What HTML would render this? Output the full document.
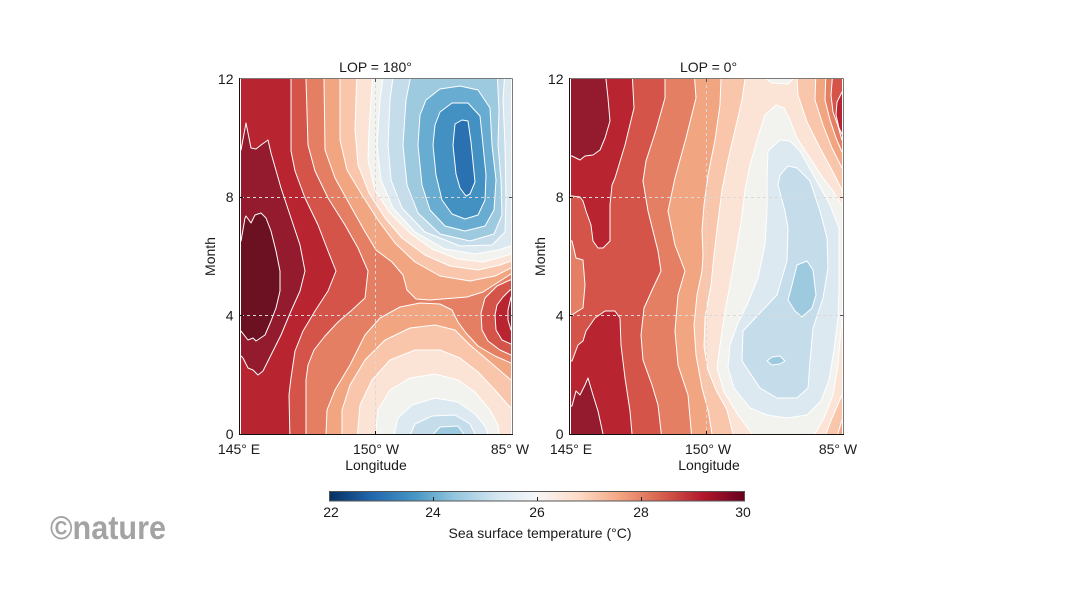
<!DOCTYPE html>
<html>
<head>
<meta charset="utf-8">
<style>
  html,body{margin:0;padding:0;background:#fff;}
  svg{display:block;}
  text{font-family:"Liberation Sans",Arial,sans-serif;fill:#1a1a1a;}
</style>
</head>
<body>
<svg width="1066" height="600" viewBox="0 0 1066 600" xmlns="http://www.w3.org/2000/svg">
<defs>
  <clipPath id="c1"><rect x="241" y="79" width="270" height="355"/></clipPath>
  <clipPath id="c2"><rect x="571" y="79" width="271" height="355"/></clipPath>
  <linearGradient id="cb" x1="0" y1="0" x2="1" y2="0">
    <stop offset="0" stop-color="#053061"/>
    <stop offset="0.1" stop-color="#2166ac"/>
    <stop offset="0.2" stop-color="#4393c3"/>
    <stop offset="0.3" stop-color="#92c5de"/>
    <stop offset="0.4" stop-color="#d1e5f0"/>
    <stop offset="0.5" stop-color="#f7f7f7"/>
    <stop offset="0.6" stop-color="#fddbc7"/>
    <stop offset="0.7" stop-color="#f4a582"/>
    <stop offset="0.8" stop-color="#d6604d"/>
    <stop offset="0.9" stop-color="#b2182b"/>
    <stop offset="1" stop-color="#67001f"/>
  </linearGradient>
</defs>
<rect width="1066" height="600" fill="#fff"/>

<!-- ================= PLOT 1 ================= -->
<g clip-path="url(#c1)" stroke="#fff" stroke-width="1" stroke-linejoin="round">
  <rect x="230" y="70" width="300" height="380" fill="#e47f64" stroke="none"/>
  <!-- upper cool system -->
  <path fill="#f2a581" d="M324,70 L324,79 L325,150 L335,178 L350,205 L364,230 L376,250 L392,262 L403,275 L407,290 L416,299 L430,300 L467,297 L483,292 L497,283 L511,274 L520,274 L520,70 Z"/>
  <path fill="#f9c6ab" d="M340,70 L340,140 L347,170 L362,195 L378,220 L395,243 L415,262 L440,276 L470,281 L495,276 L511,268 L520,268 L520,70 Z"/>
  <path fill="#fbe3d6" d="M357,70 L355,130 L358,165 L369,193 L385,218 L402,238 L425,255 L450,266 L478,270 L500,265 L511,261 L520,261 L520,70 Z"/>
  <path fill="#f2f3ee" d="M373,70 L369,130 L368,160 L375,190 L390,213 L410,233 L432,249 L458,259 L483,262 L502,257 L511,254 L520,254 L520,70 Z"/>
  <path fill="#dde9f1" d="M384,70 L380,100 L377,145 L381,180 L393,208 L415,232 L445,249 L475,254 L498,250 L511,246 L520,246 L520,70 Z"/>
  <path fill="#c5dcea" d="M394,70 L390,100 L388,145 L391,180 L402,208 L425,232 L460,246 L492,245 L505,232 L506,200 L505,145 L503,100 L505,70 Z"/>
  <path fill="#9ecae0" d="M412,70 L406,100 L403,145 L407,185 L418,213 L440,234 L470,241 L494,234 L502,215 L501,180 L498,145 L499,110 L497,70 Z"/>
  <path fill="#69acd2" d="M426,100 L440,89 L460,86 L478,90 L490,108 L492,145 L496,180 L494,210 L485,226 L465,231 L445,226 L430,210 L422,185 L418,145 L420,115 Z"/>
  <path fill="#4390c3" d="M440,112 L452,103 L468,103 L480,116 L483,145 L486,175 L485,200 L478,215 L465,219 L452,214 L442,200 L436,175 L433,145 L435,125 Z"/>
  <path fill="#2a71b1" d="M455,124 L462,120 L468,121 L471,142 L474,172 L475,182 L470,194 L466,196 L460,188 L456,174 L453,145 Z"/>
  <!-- lower cool system -->
  <path fill="#f2a581" d="M326,440 L326,434 L327,410 L335,390 L350,365 L365,335 L380,318 L400,307 L420,303 L440,304 L452,310 L458,322 L466,333 L478,346 L495,356 L511,363 L520,363 L520,440 Z"/>
  <path fill="#f9c6ab" d="M342,440 L342,410 L350,385 L365,360 L385,340 L410,328 L435,325 L455,330 L470,345 L490,362 L505,375 L511,380 L520,380 L520,440 Z"/>
  <path fill="#fbe3d6" d="M357,440 L360,405 L372,380 L390,360 L415,350 L440,350 L460,358 L478,372 L495,390 L508,405 L511,408 L520,408 L520,440 Z"/>
  <path fill="#f2f3ee" d="M375,440 L378,410 L390,390 L410,378 L435,374 L458,380 L475,392 L490,410 L498,425 L500,440 Z"/>
  <path fill="#dde9f1" d="M393,440 L398,418 L412,405 L435,398 L458,402 L475,414 L485,426 L490,440 Z"/>
  <path fill="#c5dcea" d="M408,440 L415,424 L432,416 L455,415 L470,424 L478,440 Z"/>
  <path fill="#9ecae0" d="M428,440 L440,427 L458,426 L468,440 Z"/>
  <!-- left warm system -->
  <path fill="#d4544a" d="M230,70 L306,70 L306,79 L308,145 L315,171 L328,198 L345,225 L358,248 L368,271 L365,298 L352,310 L338,322 L325,336 L314,350 L308,365 L306,380 L306,440 L230,440 Z"/>
  <path fill="#b8242f" d="M230,70 L291,70 L291,151 L295,171 L305,198 L318,225 L328,251 L336,271 L328,291 L315,311 L303,331 L295,351 L291,378 L289,395 L290,440 L230,440 Z"/>
  <path fill="#931b2d" d="M230,150 L241,150 L246,123 L251,148 L256,149 L261,145 L268,140 L271,153 L281,188 L291,218 L300,245 L305,271 L300,291 L291,311 L281,335 L271,355 L263,371 L258,375 L253,370 L248,368 L243,358 L241,356 L230,356 Z"/>
  <path fill="#6c1122" d="M230,241 L241,241 L245,218 L246,216 L251,223 L255,215 L261,213 L266,218 L271,231 L276,251 L280,271 L280,291 L276,308 L271,321 L265,335 L256,341 L253,338 L248,340 L241,331 L230,331 Z"/>
  <!-- right warm blob -->
  <path fill="#d4544a" d="M520,280 L510,280 L497,286 L485,298 L481,313 L482,330 L488,341 L500,350 L511,355 L520,355 Z"/>
  <path fill="#b8242f" d="M520,290 L510,290 L503,297 L497,305 L495,315 L496,330 L502,340 L511,344 L520,344 Z"/>
  <path fill="#931b2d" d="M520,297 L511,297 L508,310 L508,320 L511,330 L520,330 Z"/>
  <!-- grid -->
  <g stroke="#d9d9d9" stroke-width="1" stroke-dasharray="3,3" fill="none">
    <line x1="241" y1="197.5" x2="511" y2="197.5"/>
    <line x1="241" y1="315.5" x2="511" y2="315.5"/>
    <line x1="375.5" y1="79" x2="375.5" y2="434"/>
  </g>
</g>
<!-- axes plot 1 -->
<g fill="none" stroke-width="1">
  <line x1="239.5" y1="78.5" x2="512.5" y2="78.5" stroke="#7a7a7a"/>
  <line x1="512.5" y1="78.5" x2="512.5" y2="434.5" stroke="#7a7a7a"/>
  <line x1="239.5" y1="78" x2="239.5" y2="435" stroke="#111"/>
  <line x1="239" y1="434.5" x2="513" y2="434.5" stroke="#111"/>
  <g stroke="#111">
    <line x1="239.5" y1="197.5" x2="243" y2="197.5"/>
    <line x1="239.5" y1="315.5" x2="243" y2="315.5"/>
    <line x1="375.5" y1="434.5" x2="375.5" y2="431"/>
  </g>
  <g stroke="#555">
    <line x1="509" y1="197.5" x2="512.5" y2="197.5"/>
    <line x1="509" y1="315.5" x2="512.5" y2="315.5"/>
    <line x1="375.5" y1="78.5" x2="375.5" y2="82"/>
  </g>
</g>
<g font-size="14">
  <text x="375.5" y="72" text-anchor="middle">LOP = 180°</text>
  <text x="233.5" y="84" text-anchor="end">12</text>
  <text x="233.5" y="202" text-anchor="end">8</text>
  <text x="233.5" y="320.5" text-anchor="end">4</text>
  <text x="233.5" y="439" text-anchor="end">0</text>
  <text transform="translate(215,256.5) rotate(-90)" text-anchor="middle">Month</text>
  <text x="239" y="454" text-anchor="middle">145° E</text>
  <text x="376" y="454" text-anchor="middle">150° W</text>
  <text x="510" y="454" text-anchor="middle">85° W</text>
  <text x="376" y="470" text-anchor="middle">Longitude</text>
</g>

<!-- ================= PLOT 2 ================= -->
<g clip-path="url(#c2)" stroke="#fff" stroke-width="1" stroke-linejoin="round">
  <rect x="560" y="70" width="300" height="380" fill="#fbe3d6" stroke="none"/>
  <!-- left warm system -->
  <path fill="#f9c6ab" d="M560,70 L745,70 L745,79 L742,100 L735,130 L728,160 L722,190 L718,221 L714,255 L711,285 L705,318 L704,347 L708,370 L716,390 L727,410 L733,434 L733,440 L560,440 Z"/>
  <path fill="#f2a581" d="M560,70 L721,70 L721,79 L720,105 L715,140 L708,175 L704,205 L702,230 L703,255 L702,271 L697,295 L694,325 L696,355 L702,388 L708,410 L712,434 L712,440 L560,440 Z"/>
  <path fill="#e47f64" d="M560,70 L694,70 L696,98 L686,138 L675,178 L668,211 L675,245 L685,271 L678,295 L675,331 L678,365 L688,395 L692,440 L560,440 Z"/>
  <path fill="#d4544a" d="M560,70 L665,70 L665,98 L656,130 L646,161 L643,181 L648,211 L658,251 L661,271 L653,288 L644,308 L641,335 L643,360 L652,385 L658,405 L662,440 L560,440 Z"/>
  <path fill="#e47f64" d="M560,241 L572,241 L576,258 L583,260 L585,285 L583,308 L578,311 L572,315 L560,315 Z"/>
  <path fill="#b8242f" d="M560,70 L632,70 L634,108 L625,145 L615,178 L612,185 L610,205 L610,241 L603,248 L598,248 L593,241 L591,225 L586,211 L583,201 L580,197 L572,196 L560,196 Z"/>
  <path fill="#b8242f" d="M560,361 L572,361 L578,345 L583,341 L586,331 L595,318 L605,311 L615,311 L620,318 L621,345 L625,378 L630,411 L632,434 L632,440 L560,440 Z"/>
  <path fill="#931b2d" d="M560,70 L605,70 L608,98 L610,121 L605,138 L600,150 L593,155 L585,156 L580,160 L576,158 L572,156 L560,156 Z"/>
  <path fill="#931b2d" d="M560,406 L572,406 L576,391 L580,395 L585,385 L588,378 L593,395 L598,411 L603,434 L603,440 L560,440 Z"/>
  <!-- upper-right warm corner -->
  <path fill="#f9c6ab" d="M797,70 L797,78 L798,95 L807,122 L820,148 L833,172 L842,190 L850,190 L850,70 Z"/>
  <path fill="#f2a581" d="M816,70 L815,100 L823,125 L832,148 L842,168 L850,168 L850,70 Z"/>
  <path fill="#e47f64" d="M826,70 L825,100 L830,120 L836,138 L842,152 L850,152 L850,70 Z"/>
  <path fill="#d4544a" d="M833,70 L831,95 L833,112 L838,126 L842,140 L850,140 L850,70 Z"/>
  <path fill="#b8242f" d="M850,92 L842,92 L837,102 L836,115 L839,128 L842,134 L850,134 Z"/>
  <!-- lower-right warm corner -->
  <path fill="#f9c6ab" d="M826,440 L826,434 L832,418 L842,395 L850,395 L850,440 Z"/>
  <path fill="#f2a581" d="M836,440 L842,420 L850,420 L850,440 Z"/>
  <!-- cool system -->
  <path fill="#f2f3ee" d="M776,105 L765,115 L757,140 L750,165 L745,190 L741,222 L736,251 L730,285 L725,311 L720,345 L717,368 L724,392 L738,415 L752,434 L752,440 L815,440 L815,434 L824,418 L833,395 L838,365 L840,340 L842,320 L850,320 L850,205 L842,205 L833,191 L823,178 L810,158 L797,138 L790,120 L784,108 Z"/>
  <path fill="#f2f3ee" d="M765,70 L765,78 L772,83 L788,84 L794,78 L794,70 Z"/>
  <path fill="#dde9f1" d="M790,141 L780,140 L768,151 L767,178 L767,211 L765,245 L758,278 L747,305 L737,325 L730,345 L728,368 L734,388 L750,408 L767,415 L787,418 L807,415 L821,401 L829,380 L834,350 L838,318 L839,290 L839,228 L830,205 L815,178 L800,151 Z"/>
  <path fill="#c5dcea" d="M788,166 L780,175 L778,185 L785,211 L788,228 L787,261 L777,295 L758,315 L743,331 L742,361 L760,388 L777,398 L797,398 L808,388 L810,361 L813,328 L823,298 L828,268 L827,238 L820,211 L810,181 L797,168 Z"/>
  <path fill="#9ecae0" d="M797,265 L807,261 L813,270 L816,295 L812,308 L802,317 L795,311 L788,300 L792,285 Z"/>
  <path fill="#9ecae0" d="M767,361 L772,357 L780,356 L785,361 L780,364 L772,365 Z"/>
  <!-- grid -->
  <g stroke="#d9d9d9" stroke-width="1" stroke-dasharray="3,3" fill="none">
    <line x1="571" y1="197.5" x2="842" y2="197.5"/>
    <line x1="571" y1="315.5" x2="842" y2="315.5"/>
    <line x1="706.5" y1="79" x2="706.5" y2="434"/>
  </g>
</g>
<!-- axes plot 2 -->
<g fill="none" stroke-width="1">
  <line x1="569.5" y1="78.5" x2="843.5" y2="78.5" stroke="#7a7a7a"/>
  <line x1="843.5" y1="78.5" x2="843.5" y2="434.5" stroke="#7a7a7a"/>
  <line x1="569.5" y1="78" x2="569.5" y2="435" stroke="#111"/>
  <line x1="569" y1="434.5" x2="844" y2="434.5" stroke="#111"/>
  <g stroke="#111">
    <line x1="569.5" y1="197.5" x2="573" y2="197.5"/>
    <line x1="569.5" y1="315.5" x2="573" y2="315.5"/>
    <line x1="706.5" y1="434.5" x2="706.5" y2="431"/>
  </g>
  <g stroke="#555">
    <line x1="840" y1="197.5" x2="843.5" y2="197.5"/>
    <line x1="840" y1="315.5" x2="843.5" y2="315.5"/>
    <line x1="706.5" y1="78.5" x2="706.5" y2="82"/>
  </g>
</g>
<g font-size="14">
  <text x="708.5" y="72" text-anchor="middle">LOP = 0°</text>
  <text x="563.5" y="84" text-anchor="end">12</text>
  <text x="563.5" y="202" text-anchor="end">8</text>
  <text x="563.5" y="320.5" text-anchor="end">4</text>
  <text x="563.5" y="439" text-anchor="end">0</text>
  <text transform="translate(545,256.5) rotate(-90)" text-anchor="middle">Month</text>
  <text x="571" y="454" text-anchor="middle">145° E</text>
  <text x="708" y="454" text-anchor="middle">150° W</text>
  <text x="838" y="454" text-anchor="middle">85° W</text>
  <text x="709" y="470" text-anchor="middle">Longitude</text>
</g>

<!-- ================= COLORBAR ================= -->
<rect x="329.5" y="491.5" width="415" height="9.5" fill="url(#cb)" stroke="#555" stroke-width="1"/>
<g stroke="#222" stroke-width="1">
  <line x1="433.5" y1="497" x2="433.5" y2="501"/>
  <line x1="537.5" y1="497" x2="537.5" y2="501"/>
  <line x1="641.5" y1="497" x2="641.5" y2="501"/>
</g>
<g font-size="14">
  <text x="331" y="517" text-anchor="middle">22</text>
  <text x="433" y="517" text-anchor="middle">24</text>
  <text x="537" y="517" text-anchor="middle">26</text>
  <text x="641" y="517" text-anchor="middle">28</text>
  <text x="743" y="517" text-anchor="middle">30</text>
  <text x="540" y="538" text-anchor="middle">Sea surface temperature (°C)</text>
</g>

<!-- nature logo -->
<text x="50" y="539" font-family="'Liberation Serif',serif" font-weight="bold" font-size="33" textLength="116" lengthAdjust="spacingAndGlyphs" style="fill:#a3a3a3">©nature</text>
</svg>
</body>
</html>
